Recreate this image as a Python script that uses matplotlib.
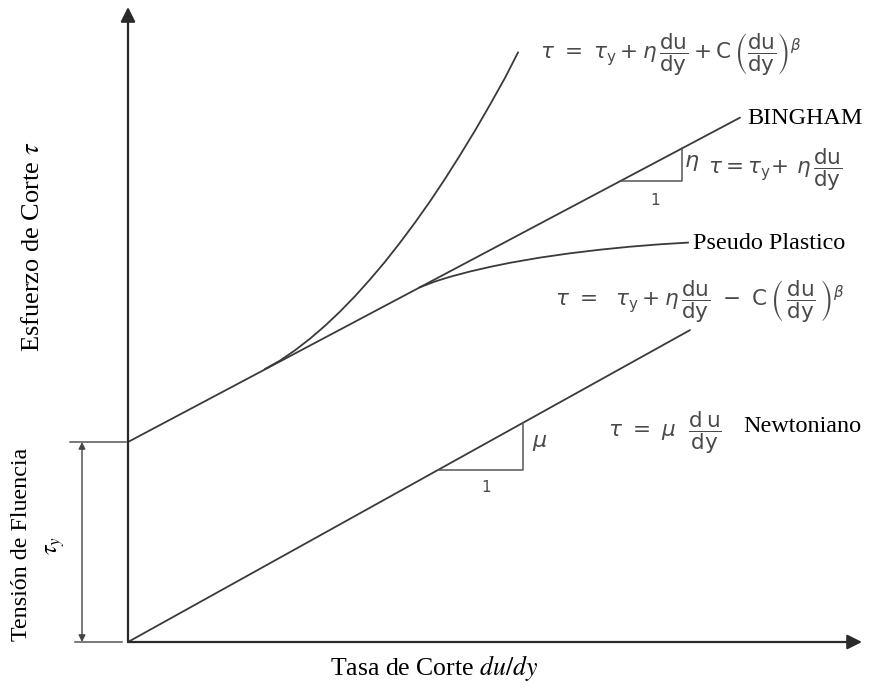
import matplotlib
matplotlib.use("Agg")
import matplotlib.pyplot as plt
import numpy as np

# ---- data (shear rate du/dy vs shear stress tau, arbitrary units) ----
tau_y = 20.0            # yield stress
eta = 0.53              # Bingham plastic viscosity (slope)
mu = 0.555              # Newtonian viscosity (slope)
bingham_x = [0.0, 61.2]
newton_x = [0.0, 56.2]

# dilatant curve (tau = tau_y + eta du/dy + C (du/dy)^beta)
dil_x = [13.7, 15.2, 16.7, 18.2, 19.7, 21.2, 22.7, 24.2, 25.7, 27.2,
         28.7, 30.2, 31.7, 33.2, 34.7, 36.2, 37.7, 39.0]
dil_y = [27.3, 28.14, 29.17, 30.33, 31.62, 33.04, 34.58, 36.25, 38.02, 39.93,
         41.94, 44.06, 46.31, 48.68, 51.14, 53.73, 56.41, 58.95]

# pseudo-plastic curve (tau = tau_y + eta du/dy - C (du/dy)^beta)
pse_x = [29.2, 30.7, 32.2, 34.2, 36.2, 38.2, 41.2, 44.2, 47.2, 50.2, 53.2, 56.0]
pse_y = [35.48, 36.05, 36.52, 37.05, 37.51, 37.92, 38.44, 38.87, 39.23, 39.53,
         39.77, 39.94]

# slope triangles: (x start, x end) on each line
bing_tri = [49.2, 55.4]
newt_tri = [31.0, 39.5]

x_axis_end = 73.4
y_axis_end = 63.5

LINE = "#3a3a3a"
FORM = "#4a4a4a"

plt.rcParams['mathtext.fontset'] = 'dejavusans'

fig = plt.figure(figsize=(8.75, 6.89), dpi=100)
ax = fig.add_axes([0, 0, 1, 1])
ax.set_xlim(-12.8, 74.7)
ax.set_ylim(-4.7, 64.2)
ax.axis('off')

# axes with arrows
ax.annotate('', xy=(0, y_axis_end), xytext=(0, 0),
            arrowprops=dict(arrowstyle='-|>', mutation_scale=22, lw=1.6,
                            color='#2a2a2a', shrinkA=0, shrinkB=0))
ax.annotate('', xy=(x_axis_end, 0), xytext=(0, 0),
            arrowprops=dict(arrowstyle='-|>', mutation_scale=22, lw=1.6,
                            color='#2a2a2a', shrinkA=0, shrinkB=0))

# Bingham line
bx = np.array(bingham_x)
ax.plot(bx, tau_y + eta * bx, color=LINE, lw=1.3, solid_capstyle='round')
# Newtonian line
nx = np.array(newton_x)
ax.plot(nx, mu * nx, color=LINE, lw=1.3, solid_capstyle='round')
# dilatant & pseudo-plastic
ax.plot(dil_x, dil_y, color=LINE, lw=1.3, solid_joinstyle='round')
ax.plot(pse_x, pse_y, color=LINE, lw=1.3, solid_joinstyle='round')

# slope triangles
x0, x1 = bing_tri
ax.plot([x0, x1, x1], [tau_y + eta * x0, tau_y + eta * x0, tau_y + eta * x1],
        color="#555555", lw=1.1)
x0n, x1n = newt_tri
ax.plot([x0n, x1n, x1n], [mu * x0n, mu * x0n, mu * x1n], color="#555555", lw=1.1)

# yield stress dimension
ax.plot([-5.8, -0.2], [tau_y, tau_y], color="#555555", lw=1.1)
ax.plot([-5.3, -0.6], [0, 0], color="#555555", lw=1.1)
ax.annotate('', xy=(-4.6, tau_y), xytext=(-4.6, 0),
            arrowprops=dict(arrowstyle='<|-|>', mutation_scale=10, lw=1.0,
                            color='#444444', shrinkA=0, shrinkB=0))

# formulas
fs_f = 15.5
DU = r'\dfrac{\mathrm{du}}{\mathrm{dy}}'
ax.text(41.2, 58.7,
        r'$\tau\ =\ \tau_{\mathrm{y}} + \eta\,' + DU + r' + \mathrm{C}\,\left(' + DU + r'\right)^{\beta}$',
        fontsize=fs_f, color=FORM, ha='left', va='center')
ax.text(58.0, 47.2, r'$\tau = \tau_{\mathrm{y}}\!+\,\eta\,' + DU + r'$',
        fontsize=fs_f, color=FORM, ha='left', va='center')
ax.text(42.7, 34.0,
        r'$\tau\ =\ \ \tau_{\mathrm{y}} + \eta\,' + DU + r'\ -\ \mathrm{C}\,\left(\,' + DU + r'\,\right)^{\beta}$',
        fontsize=fs_f, color=FORM, ha='left', va='center')
ax.text(48.0, 20.9, r'$\tau\ =\ \mu\ \ \dfrac{\mathrm{d\,u}}{\mathrm{dy}}$',
        fontsize=fs_f, color=FORM, ha='left', va='center')

# triangle labels
ax.text(56.4, 47.9, r'$\eta$', fontsize=16, color=FORM, ha='center', va='center')
ax.text(52.7, 44.2, '1', fontsize=11, color=FORM, ha='center', va='center')
ax.text(41.2, 19.9, r'$\mu$', fontsize=16, color=FORM, ha='center', va='center')
ax.text(35.8, 15.5, '1', fontsize=11, color=FORM, ha='center', va='center')

# serif labels
serif = ['Liberation Serif', 'DejaVu Serif']
fs_l = 17.4
ax.text(61.9, 52.4, 'BINGHAM', fontsize=fs_l, family=serif, ha='left', va='center', color='black')
ax.text(56.5, 39.9, 'Pseudo Plastico', fontsize=fs_l, family=serif, ha='left', va='center', color='black')
ax.text(61.5, 21.5, 'Newtoniano', fontsize=fs_l, family=serif, ha='left', va='center', color='black')

ax.text(30.6, -2.6, r'Tasa de Corte $\it{du/dy}$', fontsize=18.5, family=serif,
        ha='center', va='center', color='black', math_fontfamily='stix')
ax.text(-9.5, 39.5, r'Esfuerzo de Corte $\tau$', fontsize=19, family=serif,
        ha='center', va='center', rotation=90, color='black', math_fontfamily='stix')
ax.text(-10.6, 9.8, 'Tensión de Fluencia', fontsize=17.3, family=serif,
        ha='center', va='center', rotation=90, color='black')
ax.text(-7.3, 9.7, r'$\tau_y$', fontsize=17.3, ha='center', va='center',
        rotation=90, color='black', math_fontfamily='stix')

fig.savefig('out.png', dpi=100, facecolor='white')
